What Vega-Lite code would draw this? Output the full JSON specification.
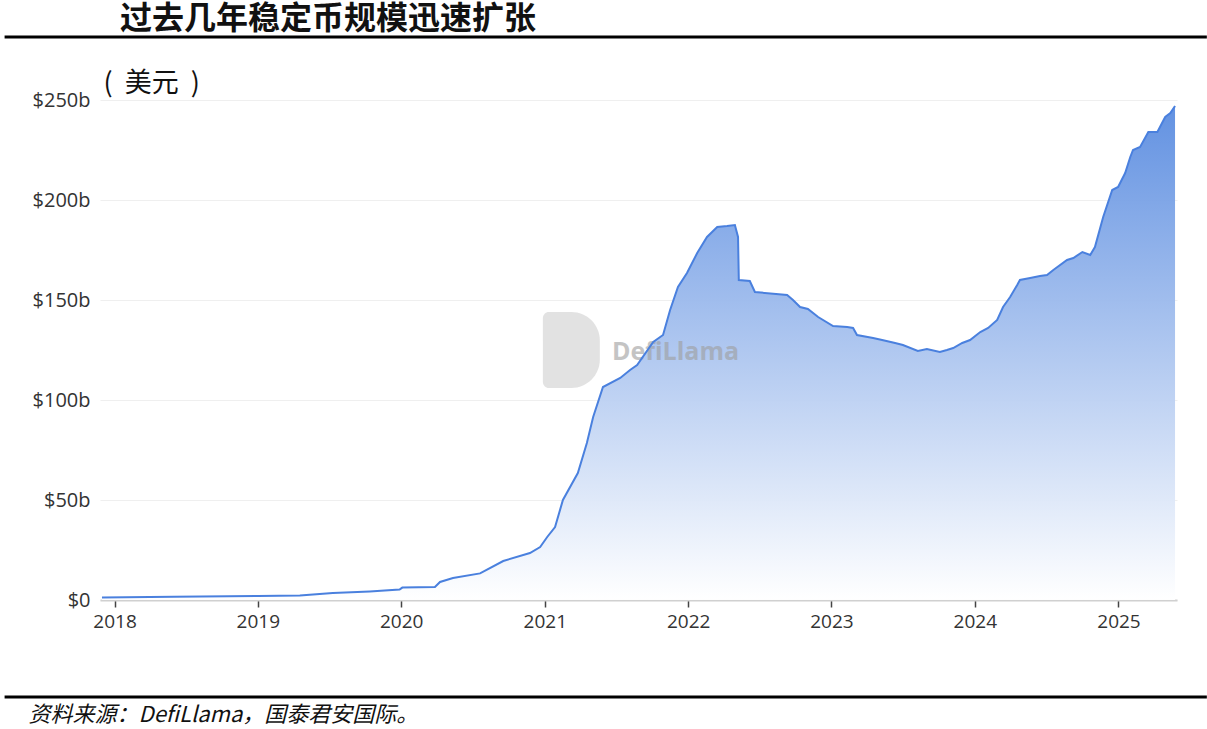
{
  "$schema": "https://vega.github.io/schema/vega-lite/v6.json",
  "width": 1077,
  "height": 500,
  "autosize": {"type": "none"},
  "padding": {"left": 100, "top": 100, "right": 30, "bottom": 129},
  "background": "white",
  "config": {"view": {"stroke": null}},
  "title": {
    "text": "过去几年稳定币规模迅速扩张",
    "anchor": "start",
    "frame": "group",
    "dx": 20,
    "offset": 0,
    "font": "Noto Sans CJK SC",
    "fontSize": 32,
    "fontWeight": "bold",
    "color": "#111111"
  },
  "datasets": {
    "supply": [
      {"date": "2017-11-30", "v": 1.2},
      {"date": "2018-06-01", "v": 1.6},
      {"date": "2019-01-01", "v": 2.0},
      {"date": "2019-04-18", "v": 2.3},
      {"date": "2019-07-11", "v": 3.5},
      {"date": "2019-10-13", "v": 4.3},
      {"date": "2019-12-28", "v": 5.2},
      {"date": "2020-01-04", "v": 6.2},
      {"date": "2020-03-27", "v": 6.5},
      {"date": "2020-04-09", "v": 9.0},
      {"date": "2020-05-12", "v": 11.0},
      {"date": "2020-07-20", "v": 13.3},
      {"date": "2020-09-17", "v": 19.5},
      {"date": "2020-11-24", "v": 23.5},
      {"date": "2020-12-20", "v": 26.5},
      {"date": "2021-01-07", "v": 31.5},
      {"date": "2021-01-27", "v": 36.5},
      {"date": "2021-02-16", "v": 50.0},
      {"date": "2021-03-26", "v": 63.5},
      {"date": "2021-04-18", "v": 78.5},
      {"date": "2021-05-04", "v": 91.5},
      {"date": "2021-05-29", "v": 106.5},
      {"date": "2021-07-12", "v": 111.0},
      {"date": "2021-08-06", "v": 115.0},
      {"date": "2021-08-24", "v": 117.5},
      {"date": "2021-10-04", "v": 129.0},
      {"date": "2021-10-29", "v": 132.5},
      {"date": "2021-11-16", "v": 145.0},
      {"date": "2021-12-06", "v": 156.5},
      {"date": "2021-12-29", "v": 163.5},
      {"date": "2022-01-24", "v": 173.5},
      {"date": "2022-02-18", "v": 181.5},
      {"date": "2022-03-16", "v": 186.5},
      {"date": "2022-04-10", "v": 187.0},
      {"date": "2022-04-30", "v": 187.5},
      {"date": "2022-05-08", "v": 181.5},
      {"date": "2022-05-10", "v": 160.0},
      {"date": "2022-06-07", "v": 159.5},
      {"date": "2022-06-20", "v": 154.0},
      {"date": "2022-09-10", "v": 152.5},
      {"date": "2022-09-25", "v": 150.0},
      {"date": "2022-10-13", "v": 146.5},
      {"date": "2022-11-02", "v": 145.5},
      {"date": "2022-11-28", "v": 141.5},
      {"date": "2023-01-05", "v": 137.0},
      {"date": "2023-02-10", "v": 136.5},
      {"date": "2023-02-25", "v": 136.0},
      {"date": "2023-03-07", "v": 132.5},
      {"date": "2023-04-17", "v": 131.0},
      {"date": "2023-05-10", "v": 130.0},
      {"date": "2023-06-12", "v": 128.5},
      {"date": "2023-07-02", "v": 127.5},
      {"date": "2023-08-09", "v": 124.5},
      {"date": "2023-09-01", "v": 125.5},
      {"date": "2023-10-04", "v": 124.0},
      {"date": "2023-10-22", "v": 125.0},
      {"date": "2023-11-07", "v": 126.0},
      {"date": "2023-11-30", "v": 128.5},
      {"date": "2023-12-20", "v": 130.0},
      {"date": "2024-01-15", "v": 134.0},
      {"date": "2024-02-04", "v": 136.0},
      {"date": "2024-02-27", "v": 140.0},
      {"date": "2024-03-13", "v": 146.5},
      {"date": "2024-03-31", "v": 151.5},
      {"date": "2024-04-18", "v": 157.5},
      {"date": "2024-04-25", "v": 160.0},
      {"date": "2024-05-21", "v": 161.0},
      {"date": "2024-06-15", "v": 162.0},
      {"date": "2024-07-03", "v": 162.5},
      {"date": "2024-07-19", "v": 165.0},
      {"date": "2024-08-23", "v": 170.0},
      {"date": "2024-09-08", "v": 171.0},
      {"date": "2024-10-01", "v": 174.0},
      {"date": "2024-10-21", "v": 172.5},
      {"date": "2024-11-02", "v": 176.5},
      {"date": "2024-11-23", "v": 191.5},
      {"date": "2024-12-16", "v": 205.0},
      {"date": "2024-12-31", "v": 206.5},
      {"date": "2025-01-18", "v": 213.5},
      {"date": "2025-01-31", "v": 221.5},
      {"date": "2025-02-07", "v": 225.0},
      {"date": "2025-02-25", "v": 226.5},
      {"date": "2025-03-18", "v": 234.0},
      {"date": "2025-04-10", "v": 234.0},
      {"date": "2025-04-30", "v": 241.5},
      {"date": "2025-05-13", "v": 243.5},
      {"date": "2025-05-25", "v": 247.0}
    ],
    "decor": [
      {"x1": "2017-03-27", "x2": "2025-08-14", "y": 281.5},
      {"x1": "2017-03-27", "x2": "2025-08-14", "y": -48.5}
    ],
    "logo": [
      {"x1": "2020-12-27", "x2": "2021-05-21", "y1": 106, "y2": 144}
    ],
    "mark": [
      {"date": "2021-06-21", "v": 124, "label": "DefiLlama"}
    ]
  },
  "layer": [
    {
      "data": {"name": "supply"},
      "mark": {
        "type": "area",
        "color": {
          "x1": 0, "y1": 0, "x2": 0, "y2": 1,
          "gradient": "linear",
          "stops": [
            {"offset": 0, "color": "#5a8ce0"},
            {"offset": 1, "color": "#ffffff"}
          ]
        },
        "opacity": 0.95
      },
      "encoding": {
        "x": {
          "field": "date",
          "type": "temporal",
          "scale": {"domain": ["2017-11-25", "2025-05-30"], "nice": false},
          "axis": {
            "format": "%Y",
            "tickCount": {"interval": "year", "step": 1},
            "grid": false,
            "domainColor": "#d0d0d0",
            "domainWidth": 2,
            "tickColor": "#444444",
            "tickSize": 7,
            "tickWidth": 1.5,
            "labelFont": "Open Sans",
            "labelFontSize": 19,
            "labelColor": "#333333",
            "labelPadding": 5,
            "title": "资料来源：DefiLlama，国泰君安国际。",
            "titleFont": "Noto Sans CJK SC",
            "titleFontSize": 22,
            "titleFontWeight": "normal",
            "titleFontStyle": "italic",
            "titleColor": "#111111",
            "titleAnchor": "start",
            "titleAlign": "left",
            "titleBaseline": "alphabetic",
            "titleX": -72,
            "titleY": 121
          }
        },
        "y": {
          "field": "v",
          "type": "quantitative",
          "scale": {"domain": [0, 250], "nice": false},
          "axis": {
            "values": [0, 50, 100, 150, 200, 250],
            "labelExpr": "datum.value == 0 ? '$0' : '$' + datum.value + 'b'",
            "domain": false,
            "ticks": false,
            "gridColor": "#efefef",
            "gridWidth": 1,
            "labelFont": "Open Sans",
            "labelFontSize": 20,
            "labelColor": "#333333",
            "labelPadding": 10,
            "title": "(\u00a0\u00a0美元\u00a0\u00a0)",
            "titleAngle": 0,
            "titleFont": "Noto Sans CJK SC",
            "titleFontSize": 27,
            "titleFontWeight": "normal",
            "titleColor": "#111111",
            "titleAlign": "left",
            "titleBaseline": "alphabetic",
            "titleX": 3,
            "titleY": -9
          }
        }
      }
    },
    {
      "data": {"name": "logo"},
      "mark": {"type": "rect", "color": "#cfcfcf", "opacity": 0.6, "cornerRadiusTopLeft": 6, "cornerRadiusBottomLeft": 6, "cornerRadiusTopRight": 30, "cornerRadiusBottomRight": 30},
      "encoding": {
        "x": {"field": "x1", "type": "temporal"},
        "x2": {"field": "x2"},
        "y": {"field": "y1", "type": "quantitative"},
        "y2": {"field": "y2"}
      }
    },
    {
      "data": {"name": "mark"},
      "mark": {"type": "text", "align": "left", "baseline": "middle", "font": "Open Sans", "fontSize": 25, "fontWeight": "bold", "color": "#9e9e9e", "opacity": 0.6},
      "encoding": {
        "x": {"field": "date", "type": "temporal"},
        "y": {"field": "v", "type": "quantitative"},
        "text": {"field": "label"}
      }
    },
    {
      "data": {"name": "supply"},
      "mark": {"type": "line", "color": "#4a80de", "strokeWidth": 2},
      "encoding": {
        "x": {"field": "date", "type": "temporal"},
        "y": {"field": "v", "type": "quantitative"}
      }
    },
    {
      "data": {"name": "decor"},
      "mark": {"type": "rule", "color": "#000000", "strokeWidth": 3},
      "encoding": {
        "x": {"field": "x1", "type": "temporal"},
        "x2": {"field": "x2"},
        "y": {"field": "y", "type": "quantitative"}
      }
    }
  ]
}
